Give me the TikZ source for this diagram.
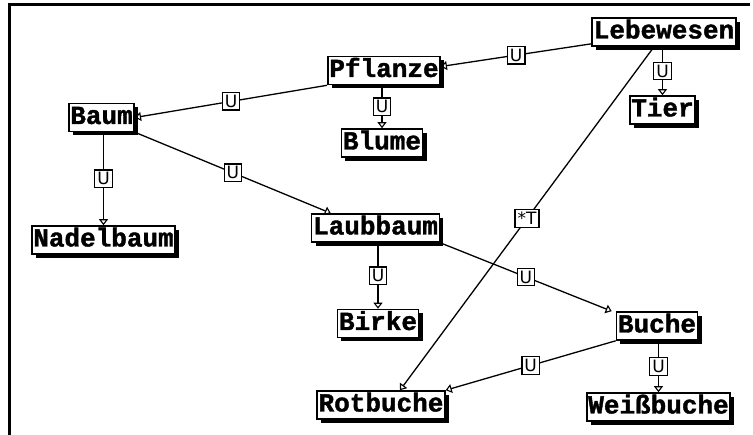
\documentclass[tikz,border=0pt]{standalone}
\usepackage{fontspec}
\newfontfamily\nodefont[FakeBold=1.5]{Liberation Mono Bold}
\newfontfamily\lblfont{DejaVu Sans}
\usetikzlibrary{arrows.meta,shadows}
\tikzset{
  concept/.style={draw, line width=1.6pt, fill=white, font=\nodefont\fontsize{26}{26}\selectfont,
    minimum height=28pt, inner xsep=1.5pt, inner ysep=0pt, text height=15pt, text depth=2pt,
    drop shadow={shadow xshift=4pt, shadow yshift=-4pt, fill=black, opacity=1}},
  rel/.style={line width=1.3pt, -{Triangle[open,length=6pt,width=9pt,line width=1.1pt]}},
  lbl/.style={draw, line width=1.3pt, fill=white, font=\lblfont\fontsize{17}{17}\selectfont,
    inner xsep=2.5pt, inner ysep=2.5pt, text height=12.5pt, text depth=0pt}
}
\begin{document}
\begin{tikzpicture}[x=1pt,y=-1pt]
\useasboundingbox[fill=white] (0,0) rectangle (753,435);
% frame
\draw[line width=3pt] (8,5) -- (750,5);
\draw[line width=3pt] (9.5,3.5) -- (9.5,435);
% nodes
\node[concept] (leb) at (664,32) {Lebewesen};
\node[concept] (pfl) at (384,70.5) {Pflanze};
\node[concept] (tier) at (662.5,110) {Tier};
\node[concept] (baum) at (101.5,117.5) {Baum};
\node[concept] (blume) at (382,143) {Blume};
\node[concept] (nadel) at (103.5,240) {Nadelbaum};
\node[concept] (laub) at (375.5,228) {Laubbaum};
\node[concept] (birke) at (378,323.5) {Birke};
\node[concept] (buche) at (657,326) {Buche};
\node[concept] (rot) at (381,405) {Rotbuche};
\node[concept] (weiss) at (658.5,407) {Weißbuche};
% edges
\draw[rel] ([yshift=3pt]leb.south west) -- node[lbl] (l1) {U} ([yshift=4pt]pfl.east);
\draw[rel] (leb.south -| tier.north) -- node[lbl] (l2) {U} (tier.north);
\draw[rel] (pfl.south west) -- node[lbl] (l3) {U} (baum.east);
\draw[rel] (pfl.south -| blume.north) -- node[lbl] (l4) {U} (blume.north);
\draw[rel] (baum.south -| nadel.north) -- node[lbl] (l5) {U} (nadel.north);
\draw[rel] (baum.south east) -- node[lbl] (l6) {U} ([xshift=20pt]laub.north west);
\draw[rel] (laub.south -| birke.north) -- node[lbl] (l7) {U} (birke.north);
\draw[rel] (laub.south east) -- node[lbl] (l8) {U} ([xshift=-4pt]buche.north west);
\draw[rel] (buche.south -| weiss.north) -- node[lbl] (l9) {U} (weiss.north);
\draw[rel] (buche.south west) -- node[lbl] (l10) {U} (rot.north east);
\draw[rel] ([xshift=-10pt]leb.south) -- node[lbl] (l11) {*T} ([xshift=19pt]rot.north);
\end{tikzpicture}
\end{document}
